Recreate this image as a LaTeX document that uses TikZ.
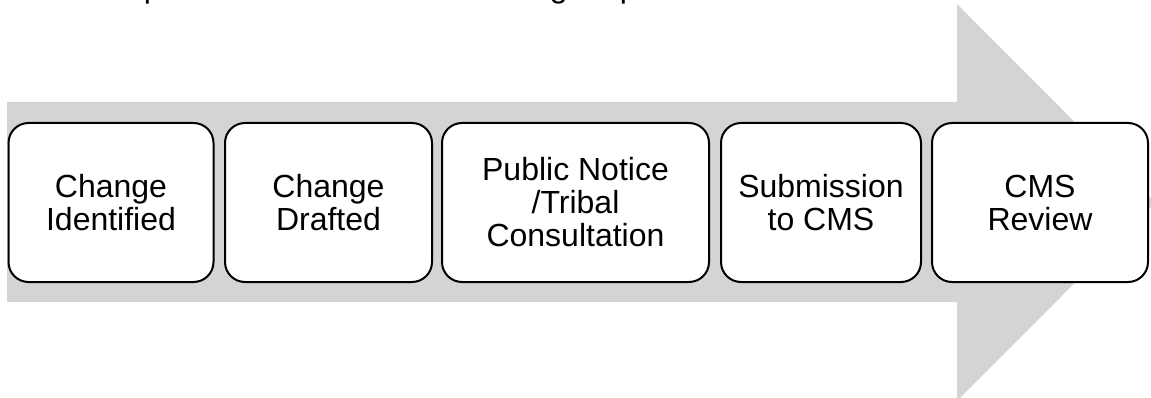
\documentclass[tikz,border=0pt]{standalone}
\usepackage{fontspec}
\setmainfont{Liberation Sans}
\definecolor{arrowgray}{RGB}{212,212,212}
\tikzset{
  stage/.style={draw=black, line width=2pt, fill=white, rounded corners=20pt,
    minimum height=159pt, inner sep=0pt, align=center,
    font=\fontsize{32}{33}\selectfont},
  frag/.style={anchor=base west, inner sep=0pt, font=\fontsize{32}{33}\selectfont}
}
\begin{document}
\begin{tikzpicture}[x=1pt, y=-1pt]
  \useasboundingbox (0,0) rectangle (1151,398);
  % broad process arrow behind the stages
  \fill[arrowgray] (7,102) -- (957,102) -- (957,4) -- (1155,202.5)
    -- (957,401) -- (957,302) -- (7,302) -- cycle;
  % heading line sits above the top edge; only its descenders reach the page
  \node[frag] (h1) at (143.6,-2) {p};
  \node[frag] (h2) at (549.7,-2) {g};
  \node[frag] (h3) at (619.6,-2) {p};
  % process stages
  \node[stage, minimum width=205pt] (s1) at (111,202.5) {Change\\Identified};
  \node[stage, minimum width=207pt] (s2) at (328.5,202.5) {Change\\Drafted};
  \node[stage, minimum width=267pt] (s3) at (575.5,202.5) {Public Notice\\/Tribal\\Consultation};
  \node[stage, minimum width=200pt] (s4) at (821,202.5) {Submission\\to CMS};
  \node[stage, minimum width=216pt] (s5) at (1040,202.5) {CMS\\Review};
\end{tikzpicture}
\end{document}
